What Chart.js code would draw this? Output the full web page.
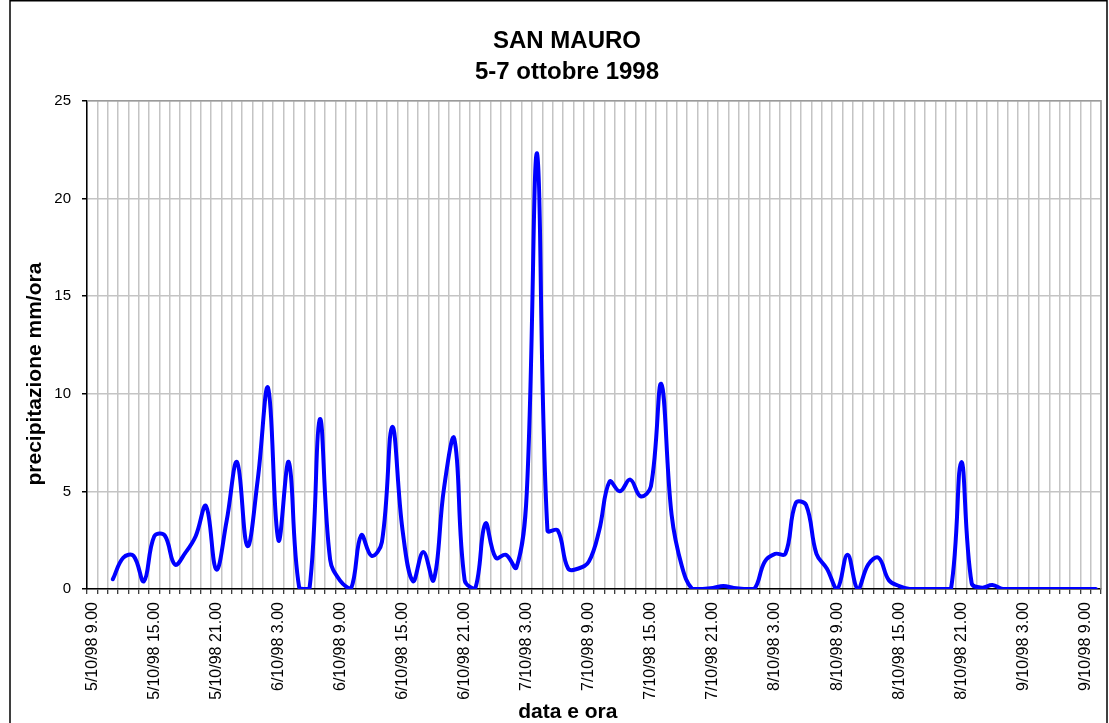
<!DOCTYPE html>
<html>
<head>
<meta charset="utf-8">
<script src="https://cdn.jsdelivr.net/npm/chart.js@4/dist/chart.umd.min.js"></script>
<style>
  html, body { margin: 0; padding: 0; background: #fff; }
  #wrap { width: 1109px; height: 723px; }
</style>
</head>
<body>
<div id="wrap"><canvas id="c" width="1109" height="723"></canvas></div>
<script>
// ---- data ----
const chartTitle = ['SAN MAURO', '5-7 ottobre 1998'];
const xTitle = 'data e ora';
const yTitle = 'precipitazione mm/ora';

const categories = [
  '5/10/98 9.00','5/10/98 10.00','5/10/98 11.00','5/10/98 12.00','5/10/98 13.00','5/10/98 14.00','5/10/98 15.00','5/10/98 16.00',
  '5/10/98 17.00','5/10/98 18.00','5/10/98 19.00','5/10/98 20.00','5/10/98 21.00','5/10/98 22.00','5/10/98 23.00',
  '6/10/98 0.00','6/10/98 1.00','6/10/98 2.00','6/10/98 3.00','6/10/98 4.00','6/10/98 5.00','6/10/98 6.00','6/10/98 7.00','6/10/98 8.00',
  '6/10/98 9.00','6/10/98 10.00','6/10/98 11.00','6/10/98 12.00','6/10/98 13.00','6/10/98 14.00','6/10/98 15.00','6/10/98 16.00',
  '6/10/98 17.00','6/10/98 18.00','6/10/98 19.00','6/10/98 20.00','6/10/98 21.00','6/10/98 22.00','6/10/98 23.00',
  '7/10/98 0.00','7/10/98 1.00','7/10/98 2.00','7/10/98 3.00','7/10/98 4.00','7/10/98 5.00','7/10/98 6.00','7/10/98 7.00','7/10/98 8.00',
  '7/10/98 9.00','7/10/98 10.00','7/10/98 11.00','7/10/98 12.00','7/10/98 13.00','7/10/98 14.00','7/10/98 15.00','7/10/98 16.00',
  '7/10/98 17.00','7/10/98 18.00','7/10/98 19.00','7/10/98 20.00','7/10/98 21.00','7/10/98 22.00','7/10/98 23.00',
  '8/10/98 0.00','8/10/98 1.00','8/10/98 2.00','8/10/98 3.00','8/10/98 4.00','8/10/98 5.00','8/10/98 6.00','8/10/98 7.00','8/10/98 8.00',
  '8/10/98 9.00','8/10/98 10.00','8/10/98 11.00','8/10/98 12.00','8/10/98 13.00','8/10/98 14.00','8/10/98 15.00','8/10/98 16.00',
  '8/10/98 17.00','8/10/98 18.00','8/10/98 19.00','8/10/98 20.00','8/10/98 21.00','8/10/98 22.00','8/10/98 23.00',
  '9/10/98 0.00','9/10/98 1.00','9/10/98 2.00','9/10/98 3.00','9/10/98 4.00','9/10/98 5.00','9/10/98 6.00','9/10/98 7.00','9/10/98 8.00',
  '9/10/98 9.00','9/10/98 10.00'
];

const tickLabels = [
  '5/10/98 9.00','5/10/98 15.00','5/10/98 21.00',
  '6/10/98 3.00','6/10/98 9.00','6/10/98 15.00','6/10/98 21.00',
  '7/10/98 3.00','7/10/98 9.00','7/10/98 15.00','7/10/98 21.00',
  '8/10/98 3.00','8/10/98 9.00','8/10/98 15.00','8/10/98 21.00',
  '9/10/98 3.00','9/10/98 9.00'
];

// precipitation, mm/ora (one value per hour)
const precipitazione = [
  null, null, 0.5, 1.6, 1.7, 0.4, 2.7, 2.75, 1.25, 1.85,
  2.7, 4.25, 1.0, 3.5, 6.5, 2.2, 5.6, 10.3, 2.5, 6.5,
  0.1, 0, 8.7, 1.5, 0.4, 0, 2.75, 1.7, 2.4, 8.3,
  3.0, 0.4, 1.9, 0.45, 5.15, 7.7, 0.45, 0, 3.35, 1.6,
  1.75, 1.1, 4.9, 22.3, 3.0, 3.0, 1.05, 1.05, 1.4, 3.0,
  5.5, 5.0, 5.6, 4.75, 5.25, 10.5, 3.8, 1.15, 0, 0,
  0.05, 0.15, 0.05, 0, 0, 1.4, 1.8, 1.8, 4.4, 4.3,
  1.8, 1.05, 0, 1.75, 0, 1.25, 1.6, 0.45, 0.15, 0,
  0, 0, 0, 0, 6.5, 0.3, 0.07, 0.2, 0, 0,
  0, 0, 0, 0, 0, 0, 0, 0
];

const yTicks = [0, 5, 10, 15, 20, 25];

// ---- chart ----
const FONT = "'Liberation Sans', Arial, sans-serif";

const framePlugin = {
  id: 'frame',
  beforeDatasetsDraw(chart) {
    const {ctx, chartArea: a} = chart;
    ctx.save();
    ctx.strokeStyle = '#9a9a9a';
    ctx.lineWidth = 1.5;
    ctx.beginPath();
    ctx.moveTo(a.left, a.top);
    ctx.lineTo(a.right, a.top);
    ctx.lineTo(a.right, a.bottom);
    ctx.stroke();
    ctx.restore();
  },
  afterDraw(chart) {
    const {ctx} = chart;
    ctx.save();
    ctx.strokeStyle = '#000';
    ctx.lineWidth = 1.5;
    ctx.beginPath();
    ctx.moveTo(10, 723);
    ctx.lineTo(10, 0.75);
    ctx.lineTo(1107, 0.75);
    ctx.lineTo(1107, 723);
    ctx.stroke();
    ctx.restore();
  }
};

new Chart(document.getElementById('c'), {
  type: 'line',
  data: {
    labels: categories,
    datasets: [{
      data: precipitazione,
      borderColor: '#0000ff',
      borderWidth: 4,
      pointRadius: 0,
      tension: 0.4,
      fill: false,
      borderCapStyle: 'round',
      borderJoinStyle: 'round'
    }]
  },
  options: {
    responsive: false,
    animation: false,
    devicePixelRatio: 1,
    layout: { padding: { left: 33, right: 8, top: 0, bottom: 0 } },
    plugins: {
      legend: { display: false },
      tooltip: { enabled: false },
      title: {
        display: true,
        text: chartTitle,
        color: '#000',
        font: { family: FONT, size: 24, weight: 'bold', lineHeight: 1.3 },
        padding: { top: 26, bottom: 12.4 }
      }
    },
    scales: {
      x: {
        type: 'category',
        offset: true,
        grid: {
          offset: true,
          color: '#c4c4c4',
          lineWidth: 1.5,
          tickColor: '#000',
          tickLength: 5,
          tickWidth: 1
        },
        border: { display: true, color: '#000', width: 1.5 },
        ticks: {
          autoSkip: false,
          maxRotation: 90,
          minRotation: 90,
          padding: 8,
          color: '#000',
          font: { family: FONT, size: 16 },
          callback: function (value, index) {
            const lbl = categories[index];
            return tickLabels.includes(lbl) ? lbl : '';
          }
        },
        title: {
          display: true,
          text: xTitle + '         ',
          color: '#000',
          font: { family: FONT, size: 21, weight: 'bold', lineHeight: 1.05 },
          padding: { top: 0, bottom: 0 }
        },
        afterFit(scale) {
          scale.height = 134;
          scale.paddingLeft = 0;
          scale.paddingRight = 0;
        }
      },
      y: {
        min: 0,
        max: 25,
        afterBuildTicks(scale) { scale.ticks = yTicks.map(v => ({ value: v })); },
        grid: {
          color: '#c4c4c4',
          lineWidth: 1.5,
          tickColor: '#000',
          tickLength: 5
        },
        border: { display: true, color: '#000', width: 1.5 },
        ticks: {
          padding: 11,
          color: '#000',
          font: { family: FONT, size: 15 }
        },
        title: {
          display: true,
          text: yTitle + '          ',
          color: '#000',
          font: { family: FONT, size: 21, weight: 'bold', lineHeight: 1.05 },
          padding: { top: -9, bottom: 0 }
        },
        afterFit(scale) {
          scale.width = 54;
          scale.paddingTop = 0;
          scale.paddingBottom = 0;
        }
      }
    }
  },
  plugins: [framePlugin]
});
</script>
</body>
</html>
